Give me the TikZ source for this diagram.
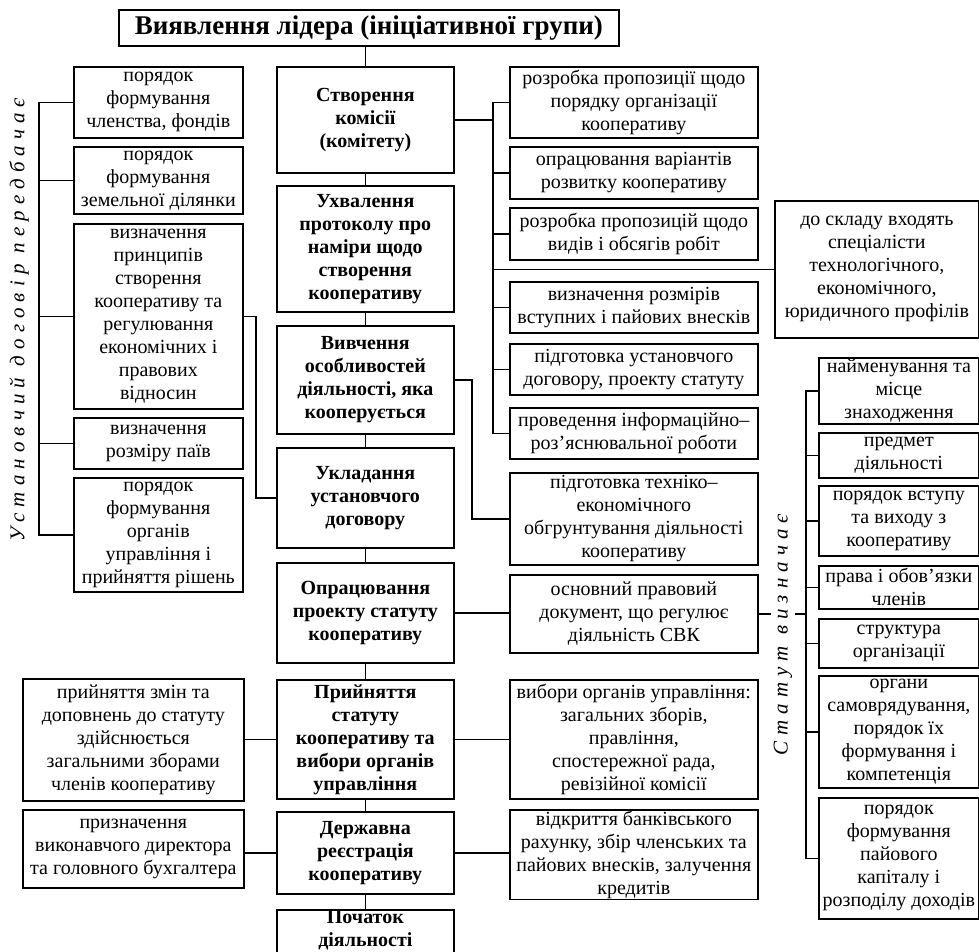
\documentclass[tikz,border=0pt]{standalone}
\usepackage{fontspec}
\setmainfont{Liberation Serif}
\newfontfamily\spacedfont[LetterSpace=29]{Liberation Serif}
\usetikzlibrary{positioning, calc}
\tikzset{
    stage/.style={
        rectangle,
        draw=black,
        line width=1.7pt,
        anchor=north west,
        inner sep=1pt,
        align=center,
        fill=white,
        font=\fontsize{20}{23}\selectfont\bfseries
    },
    task/.style={
        rectangle,
        draw=black,
        line width=1.7pt,
        anchor=north west,
        inner sep=1pt,
        align=center,
        fill=white,
        font=\fontsize{20}{23}\selectfont
    },
    headline/.style={
        rectangle,
        draw=black,
        line width=1.7pt,
        anchor=north west,
        inner sep=1pt,
        fill=white,
        font=\fontsize{27}{30}\selectfont\bfseries
    },
    link/.style={
        draw=black,
        line width=1.6pt
    },
    sidelabel/.style={
        rotate=90,
        fill=white,
        inner sep=3pt,
        font=\fontsize{21}{24}\spacedfont\itshape
    }
}

\begin{document}
\begin{tikzpicture}[x=1pt, y=-1pt]

\path[use as bounding box, fill=white] (0,0) rectangle (979,952);

\node[headline, minimum width=500pt, minimum height=36pt] (title) at (118,9) {Виявлення лідера (ініціативної групи)};

% Stages
\node[stage, minimum width=177pt, minimum height=106pt] (c1) at (276,66) {Створення\\комісії\\(комітету)};
\node[stage, minimum width=177pt, minimum height=126pt] (c2) at (276,185) {Ухвалення\\протоколу про\\наміри щодо\\створення\\кооперативу};
\node[stage, minimum width=177pt, minimum height=108pt] (c3) at (276,325) {Вивчення\\особливостей\\діяльності, яка\\кооперується};
\node[stage, minimum width=177pt, minimum height=100pt] (c4) at (276,447) {Укладання\\установчого\\договору};
\node[stage, minimum width=177pt, minimum height=100pt] (c5) at (276,562) {Опрацювання\\проекту статуту\\кооперативу};
\node[stage, minimum width=177pt, minimum height=119pt] (c6) at (276,679) {Прийняття\\статуту\\кооперативу та\\вибори органів\\управління};
\node[stage, minimum width=177pt, minimum height=82pt] (c7) at (276,811) {Державна\\реєстрація\\кооперативу};
\node[stage, minimum width=177pt, minimum height=60pt] (c8) at (276,909) {Початок\\діяльності\\[16pt]};

\draw[link] (c1.north) -- (c1.north |- title.south);
\foreach \a/\b in {c1/c2, c2/c3, c3/c4, c4/c5, c5/c6, c6/c7, c7/c8}
    \draw[link] (\a.south) -- (\b.north);

% Founding agreement
\node[task, minimum width=169pt, minimum height=71pt] (l1) at (73,66) {порядок\\формування\\членства, фондів};
\node[task, minimum width=169pt, minimum height=67pt] (l2) at (73,146) {порядок\\формування\\земельної ділянки};
\node[task, minimum width=169pt, minimum height=185pt] (l3) at (73,223) {визначення\\принципів\\створення\\кооперативу та\\регулювання\\економічних і\\правових\\відносин};
\node[task, minimum width=169pt, minimum height=51pt] (l4) at (73,417) {визначення\\розміру паїв};
\node[task, minimum width=169pt, minimum height=114pt] (l5) at (73,477) {порядок\\формування\\органів\\управління і\\прийняття рішень};

\coordinate (lbar) at (39,0);
\draw[link] (l1.west) -- (l1.west -| lbar) -- (l5.west -| lbar) -- (l5.west);
\foreach \n in {l2, l3, l4}
    \draw[link] (\n.west) -- (\n.west -| lbar);
\draw[link] (l3.east) -- ++(12,0) |- (c4.west);

\node[sidelabel] (agreement) at (19,320) {Установчий договір передбачає};

% Commission tasks
\node[task, minimum width=248pt, minimum height=71pt] (r1) at (509,66) {розробка пропозиції щодо\\порядку організації\\кооперативу};
\node[task, minimum width=248pt, minimum height=52pt] (r2) at (509,146) {опрацювання варіантів\\розвитку кооперативу};
\node[task, minimum width=248pt, minimum height=52pt] (r3) at (509,207) {розробка пропозицій щодо\\видів і обсягів робіт};
\node[task, minimum width=248pt, minimum height=51pt] (r4) at (509,281) {визначення розмірів\\вступних і пайових внесків};
\node[task, minimum width=248pt, minimum height=51pt] (r5) at (509,343) {підготовка установчого\\договору, проекту статуту};
\node[task, minimum width=248pt, minimum height=51pt] (r6) at (509,407) {проведення інформаційно–\\роз’яснювальної роботи};
\node[task, minimum width=204pt, minimum height=137pt] (team) at (774,200) {до складу входять\\спеціалісти\\технологічного,\\економічного,\\юридичного профілів};

\coordinate (rbar) at (493,0);
\draw[link] (c1.east) -- (c1.east -| rbar);
\draw[link] (r1.west) -- (r1.west -| rbar) -- (r6.west -| rbar) -- (r6.west);
\foreach \n in {r2, r3, r4, r5}
    \draw[link] (\n.west) -- (\n.west -| rbar);
\draw[link] (team.west) -- (team.west -| rbar);

% Other results
\node[task, minimum width=248pt, minimum height=92pt] (r7) at (509,472) {підготовка техніко–\\економічного\\обгрунтування діяльності\\кооперативу};
\node[task, minimum width=248pt, minimum height=78pt] (r8) at (509,574) {основний правовий\\документ, що регулює\\діяльність СВК};
\node[task, minimum width=248pt, minimum height=119pt] (r9) at (509,679) {вибори органів управління:\\загальних зборів,\\правління,\\спостережної рада,\\ревізійної комісії};
\node[task, minimum width=248pt, minimum height=88pt] (r10) at (509,809) {відкриття банківського\\рахунку, збір членських та\\пайових внесків, залучення\\кредитів};
\node[task, minimum width=221pt, minimum height=122pt] (ll1) at (22,678) {прийняття змін та\\доповнень до статуту\\здійснюється\\загальними зборами\\членів кооперативу};
\node[task, minimum width=221pt, minimum height=78pt] (ll2) at (22,809) {призначення\\виконавчого директора\\та головного бухгалтера};

\draw[link] (c3.east) -- ++(17,0) |- (r7.west);
\draw[link] (c5.east) -- (c5.east -| r8.west);
\draw[link] (c6.west) -- (c6.west -| ll1.east);
\draw[link] (c6.east) -- (c6.east -| r9.west);
\draw[link] (c7.west) -- (c7.west -| ll2.east);
\draw[link] (c7.east) -- (c7.east -| r10.west);

% Statute
\node[task, minimum width=160pt, minimum height=66pt] (s1) at (818,357) {найменування та\\місце\\знаходження};
\node[task, minimum width=160pt, minimum height=45pt] (s2) at (818,432) {предмет\\діяльності};
\node[task, minimum width=160pt, minimum height=70pt] (s3) at (818,485) {порядок вступу\\та виходу з\\кооперативу};
\node[task, minimum width=160pt, minimum height=43pt] (s4) at (818,565) {права і обов’язки\\членів};
\node[task, minimum width=160pt, minimum height=49pt] (s5) at (818,618) {структура\\організації};
\node[task, minimum width=160pt, minimum height=112pt] (s6) at (818,675) {органи\\самоврядування,\\порядок їх\\формування і\\компетенція};
\node[task, minimum width=160pt, minimum height=121pt] (s7) at (818,797) {порядок\\формування\\пайового\\капіталу і\\розподілу доходів};

\coordinate (sbar) at (806,0);
\draw[link] (s1.west) -- (s1.west -| sbar) -- (s7.west -| sbar) -- (s7.west);
\foreach \n in {s2, s3, s4, s5, s6}
    \draw[link] (\n.west) -- (\n.west -| sbar);
\draw[link] (r8.east) -- (r8.east -| sbar);

\node[sidelabel] (statute) at (783,635) {Статут визначає};

\end{tikzpicture}
\end{document}
